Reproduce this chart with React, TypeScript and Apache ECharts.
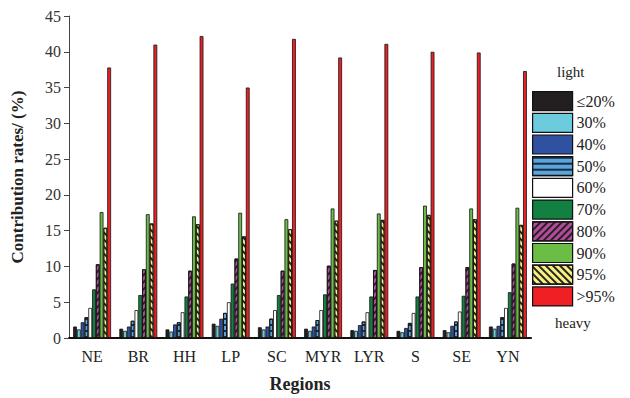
import React, { useEffect, useRef } from "react";
import * as echarts from "echarts";

const regions = ["NE", "BR", "HH", "LP", "SC", "MYR", "LYR", "S", "SE", "YN"];
const levels = ["≤20%", "30%", "40%", "50%", "60%", "70%", "80%", "90%", "95%", ">95%"];

const le20 = [1.6, 1.3, 1.2, 2.0, 1.5, 1.3, 1.1, 1.0, 1.1, 1.6];
const p30 = [1.2, 1.0, 0.9, 1.7, 1.2, 1.0, 1.0, 0.8, 0.8, 1.3];
const p40 = [2.2, 1.6, 1.9, 2.7, 1.6, 1.6, 1.8, 1.4, 1.7, 1.7];
const p50 = [2.9, 2.4, 2.2, 3.5, 2.7, 2.5, 2.3, 2.1, 2.3, 2.9];
const p60 = [4.2, 3.9, 3.6, 5.0, 3.9, 3.9, 3.6, 3.5, 3.7, 4.2];
const p70 = [6.8, 6.0, 5.8, 7.6, 6.0, 6.1, 5.8, 5.8, 5.9, 6.4];
const p80 = [10.3, 9.6, 9.4, 11.1, 9.4, 10.1, 9.5, 9.9, 9.9, 10.4];
const p90 = [17.6, 17.3, 17.0, 17.5, 16.6, 18.1, 17.4, 18.5, 18.1, 18.2];
const p95 = [15.4, 16.0, 15.9, 14.2, 15.2, 16.4, 16.5, 17.2, 16.6, 15.8];
const gt95 = [37.8, 41.0, 42.2, 35.0, 41.8, 39.2, 41.1, 40.0, 39.9, 37.3];

const seriesValues = [le20, p30, p40, p50, p60, p70, p80, p90, p95, gt95];
const colors = ["#231f20", "#6ccbdc", "#3050a0", "#5aa5dc", "#ffffff", "#128040", "#b44a9c", "#6bbd45", "#f7f080", "#ee2024"];

const yTicks = [0, 5, 10, 15, 20, 25, 30, 35, 40, 45];

const SERIF = "'Liberation Serif', 'DejaVu Serif', serif";

function decalFor(i: number): any {
  if (i === 3) {
    return { symbol: "rect", symbolSize: 1, dashArrayX: [1, 0], dashArrayY: [1.5, 3.5], rotation: 0, color: "#1a2a40" };
  }
  if (i === 6) {
    return { symbol: "rect", symbolSize: 1, dashArrayX: [1, 0], dashArrayY: [1.2, 3], rotation: -Math.PI / 4, color: "#222" };
  }
  if (i === 8) {
    return { symbol: "rect", symbolSize: 1, dashArrayX: [1, 0], dashArrayY: [1.2, 3], rotation: Math.PI / 4, color: "#222" };
  }
  return undefined;
}

export default function App() {
  const ref = useRef<HTMLDivElement>(null);
  useEffect(() => {
    if (!ref.current) return;
    const chart = echarts.init(ref.current, null, { renderer: "svg" });
    const series = levels.map((name, i) => {
      const d = decalFor(i);
      return {
        name,
        type: "bar",
        data: seriesValues[i],
        barGap: "0%",
        barCategoryGap: "18%",
        itemStyle: {
          color: colors[i],
          borderColor: "#111",
          borderWidth: 0.8,
          ...(d ? { decal: d } : {}),
        },
      };
    });
    chart.setOption({
      animation: false,
      backgroundColor: "#ffffff",
      grid: { left: 69, right: 99, top: 16, bottom: 54, containLabel: false },
      legend: {
        orient: "vertical",
        left: 532,
        top: 91,
        padding: 0,
        itemWidth: 40,
        itemHeight: 19,
        itemGap: 1.5,
        icon: "rect",
        itemStyle: { borderColor: "#111", borderWidth: 1.2 },
        textStyle: { fontFamily: SERIF, fontSize: 16, lineHeight: 18, color: "#222", padding: [0, 0, 0, -1] },
        data: levels,
      },
      graphic: [
        { type: "text", left: 557, top: 64, style: { text: "light", font: `15px ${SERIF}`, fill: "#222" } },
        { type: "text", left: 555, top: 315, style: { text: "heavy", font: `15px ${SERIF}`, fill: "#222" } },
      ],
      xAxis: {
        type: "category",
        data: regions,
        name: "Regions",
        nameLocation: "middle",
        nameGap: 37,
        nameTextStyle: { fontFamily: SERIF, fontSize: 18, fontWeight: "bold", color: "#222" },
        axisLine: { lineStyle: { color: "#111", width: 2 } },
        axisTick: { alignWithLabel: true, length: 5, lineStyle: { color: "#222", width: 1 } },
        axisLabel: { interval: 0, fontFamily: SERIF, fontSize: 16, color: "#222", margin: 10 },
      },
      yAxis: {
        type: "value",
        min: 0,
        max: 45,
        interval: 5,
        name: "Contribution rates/ (%)",
        nameLocation: "middle",
        nameGap: 43,
        nameTextStyle: { fontFamily: SERIF, fontSize: 17, fontWeight: "bold", color: "#222" },
        axisLine: { show: true, lineStyle: { color: "#444", width: 1 } },
        axisTick: { show: true, length: 5, lineStyle: { color: "#444" } },
        axisLabel: {
          fontFamily: SERIF,
          fontSize: 16,
          color: "#333",
          margin: 8,
          formatter: (v: number) => (yTicks.includes(v) ? String(v) : ""),
        },
        splitLine: { show: false },
      },
      series,
    });
    return () => chart.dispose();
  }, []);
  return (
    <div
      ref={ref}
      style={{ position: "fixed", left: 0, top: 0, width: 630, height: 398, background: "#fff" }}
    />
  );
}
